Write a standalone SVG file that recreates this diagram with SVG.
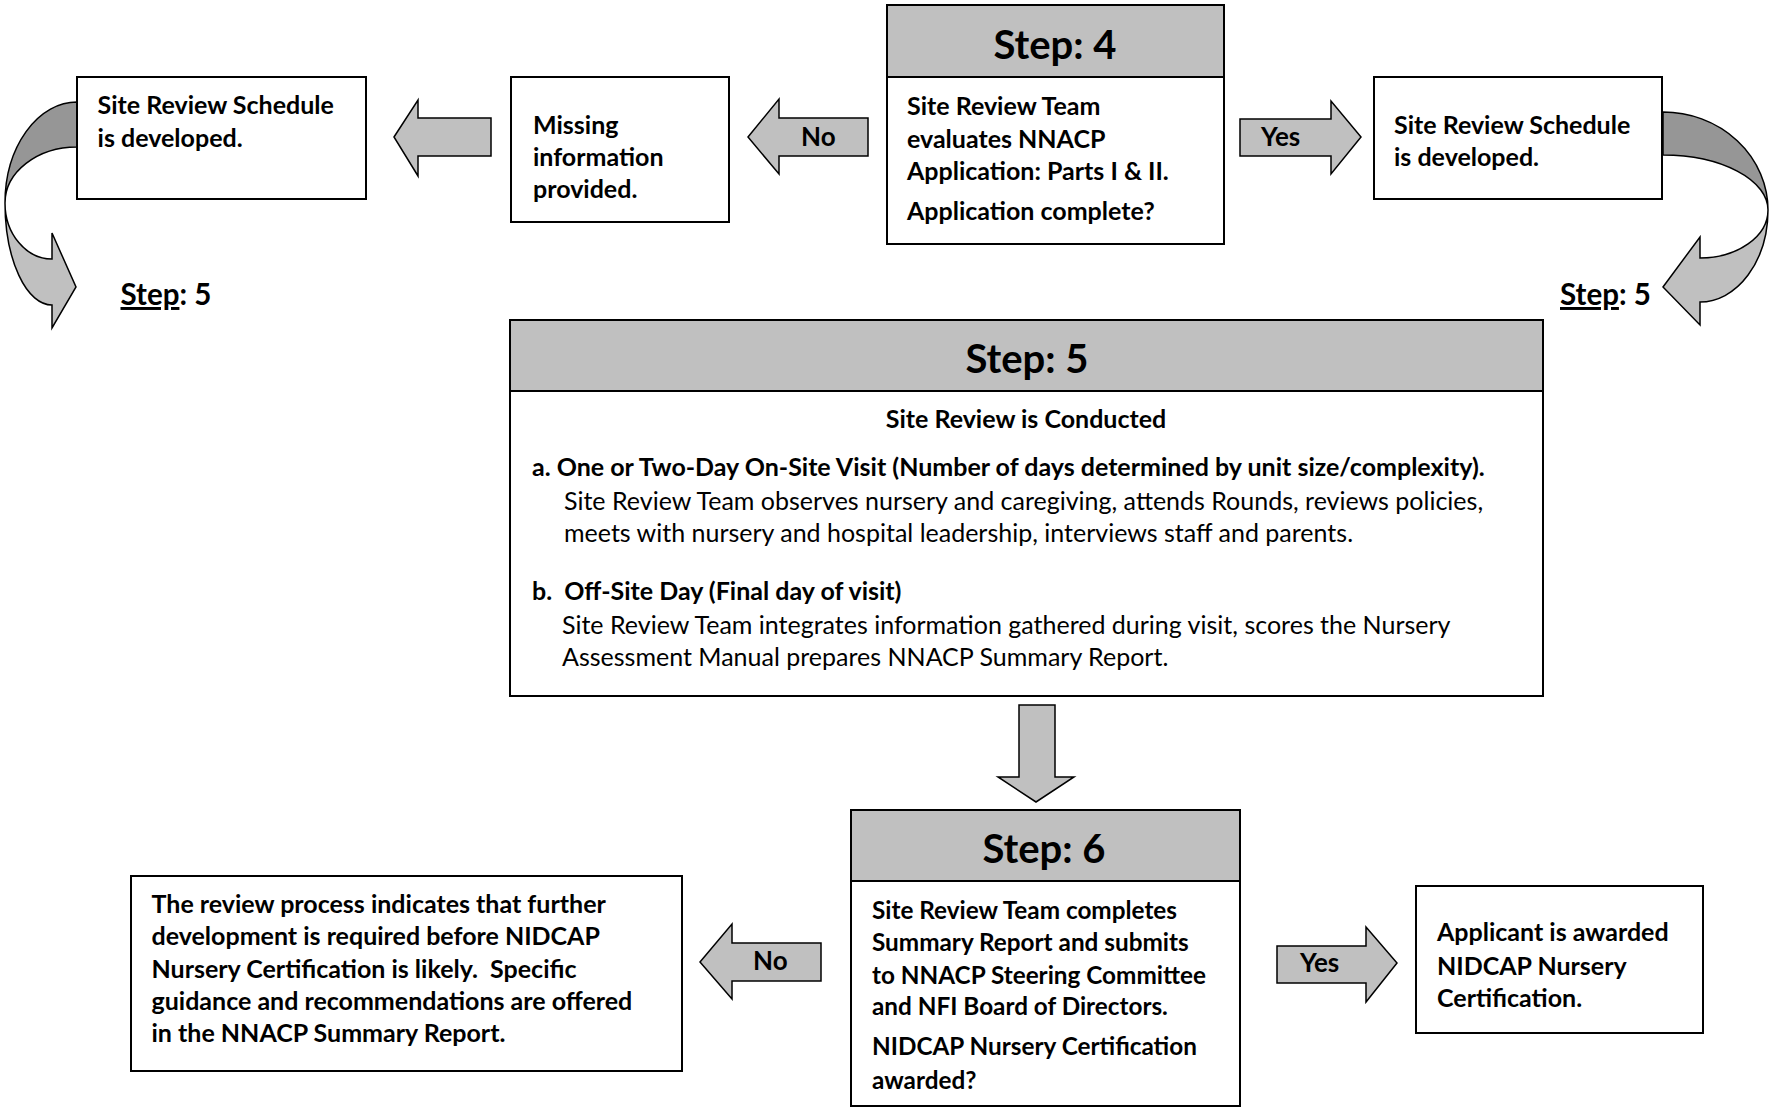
<svg xmlns="http://www.w3.org/2000/svg" width="1775" height="1111" viewBox="0 0 1775 1111">
<style>
.box{fill:#fff;stroke:#000;stroke-width:2}
.hdr{fill:#c0c0c0;stroke:#000;stroke-width:2}
.arr{fill:#c0c0c0;stroke:#000;stroke-width:1.5;stroke-linejoin:miter}
.dark{fill:#969696;stroke:#000;stroke-width:1.5}
text{font-family:Lato,'Open Sans','Liberation Sans',sans-serif;fill:#000}
.b{font-weight:700;font-size:25px}
.s6{font-size:24.3px}
.r{font-weight:400;font-size:25px}
.h{font-weight:700;font-size:40px;text-anchor:middle}
.lbl{font-weight:700;font-size:26px}
.st{font-weight:700;font-size:29.5px}
.u{text-decoration:underline}
</style>
<rect width="1775" height="1111" fill="#fff"/>
<g id="connectors">
  <path class="dark" d="M77,102 A72,101 0 0 0 5,203 A72,56 0 0 1 77,147 Z"/>
  <path class="arr" d="M5,203 A47,102 0 0 0 52,305 L52,328 L76,287 L52,233 L52,259 A47,56 0 0 1 5,203 Z"/>
  <path class="dark" d="M1663,112 A105,98 0 0 1 1768,210 A105,55 0 0 0 1663,155 Z"/>
  <path class="arr" d="M1768,210 A68,92 0 0 1 1700,302 L1700,325 L1663,287 L1700,237 L1700,258 A68,48 0 0 0 1768,210 Z"/>
  <path class="arr" d="M394,137 L418,100 L418,118 L491,118 L491,156 L418,156 L418,176 Z"/>
  <path class="arr" d="M748,137 L779,99 L779,118 L868,118 L868,156 L779,156 L779,174 Z"/>
  <text class="lbl" x="801" y="146">No</text>
  <path class="arr" d="M1240,119 L1331,119 L1331,101 L1361,137 L1331,174 L1331,156 L1240,156 Z"/>
  <text class="lbl" x="1261" y="146">Yes</text>
  <path class="arr" d="M1019,705 L1055,705 L1055,777 L1074,777 L1036,802 L998,777 L1019,777 Z"/>
  <path class="arr" d="M700,962 L732,924 L732,943 L821,943 L821,981 L732,981 L732,999 Z"/>
  <text class="lbl" x="753" y="970">No</text>
  <path class="arr" d="M1277,946 L1366,946 L1366,927 L1397,963 L1366,1002 L1366,983 L1277,983 Z"/>
  <text class="lbl" x="1300" y="972">Yes</text>
  <text class="st" x="120.5" y="305"><tspan class="u">Step</tspan>: 5</text>
  <text class="st" x="1560" y="305"><tspan class="u">Step</tspan>: 5</text>
</g>
<g id="schedule-left">
  <rect class="box" x="77" y="77" width="289" height="122"/>
  <text class="b" x="97.6" y="114">Site Review Schedule</text>
  <text class="b" x="97.6" y="147">is developed.</text>
</g>
<g id="missing-info">
  <rect class="box" x="511" y="77" width="218" height="145"/>
  <text class="b" x="533" y="134">Missing</text>
  <text class="b" x="533" y="166">information</text>
  <text class="b" x="533" y="198">provided.</text>
</g>
<g id="step4">
  <rect class="box" x="887" y="77" width="337" height="167"/>
  <rect class="hdr" x="887" y="5" width="337" height="72"/>
  <text class="h" x="1055" y="59">Step: 4</text>
  <text class="b" x="907" y="115">Site Review Team</text>
  <text class="b" x="907" y="148">evaluates NNACP</text>
  <text class="b" x="907" y="180">Application: Parts I &amp; II.</text>
  <text class="b" x="907" y="220">Application complete?</text>
</g>
<g id="schedule-right">
  <rect class="box" x="1374" y="77" width="288" height="122"/>
  <text class="b" x="1394" y="134">Site Review Schedule</text>
  <text class="b" x="1394" y="166">is developed.</text>
</g>
<g id="step5">
  <rect class="box" x="510" y="391" width="1033" height="305"/>
  <rect class="hdr" x="510" y="320" width="1033" height="71"/>
  <text class="h" x="1027" y="373">Step: 5</text>
  <text class="b" x="1026" y="428" text-anchor="middle">Site Review is Conducted</text>
  <text class="b" x="532" y="476">a. One or Two-Day On-Site Visit (Number of days determined by unit size/complexity).</text>
  <text class="r" x="564" y="510">Site Review Team observes nursery and caregiving, attends Rounds, reviews policies,</text>
  <text class="r" x="564" y="542">meets with nursery and hospital leadership, interviews staff and parents.</text>
  <text class="b" x="532" y="600" xml:space="preserve">b.  Off-Site Day (Final day of visit)</text>
  <text class="r" x="562" y="634">Site Review Team integrates information gathered during visit, scores the Nursery</text>
  <text class="r" x="562" y="666">Assessment Manual prepares NNACP Summary Report.</text>
</g>
<g id="step6">
  <rect class="box" x="851" y="881" width="389" height="225"/>
  <rect class="hdr" x="851" y="810" width="389" height="71"/>
  <text class="h" x="1044" y="863">Step: 6</text>
  <text class="b s6" x="872" y="919">Site Review Team completes</text>
  <text class="b s6" x="872" y="951">Summary Report and submits</text>
  <text class="b s6" x="872" y="984">to NNACP Steering Committee</text>
  <text class="b s6" x="872" y="1015">and NFI Board of Directors.</text>
  <text class="b s6" x="872" y="1055">NIDCAP Nursery Certification</text>
  <text class="b s6" x="872" y="1089">awarded?</text>
</g>
<g id="further-development">
  <rect class="box" x="131" y="876" width="551" height="195"/>
  <text class="b" x="151.5" y="913">The review process indicates that further</text>
  <text class="b" x="151.5" y="945">development is required before NIDCAP</text>
  <text class="b" x="151.5" y="978" xml:space="preserve">Nursery Certification is likely.  Specific</text>
  <text class="b" x="151.5" y="1010">guidance and recommendations are offered</text>
  <text class="b" x="151.5" y="1042">in the NNACP Summary Report.</text>
</g>
<g id="awarded">
  <rect class="box" x="1416" y="886" width="287" height="147"/>
  <text class="b" x="1437" y="941">Applicant is awarded</text>
  <text class="b" x="1437" y="975">NIDCAP Nursery</text>
  <text class="b" x="1437" y="1007">Certification.</text>
</g>
</svg>
